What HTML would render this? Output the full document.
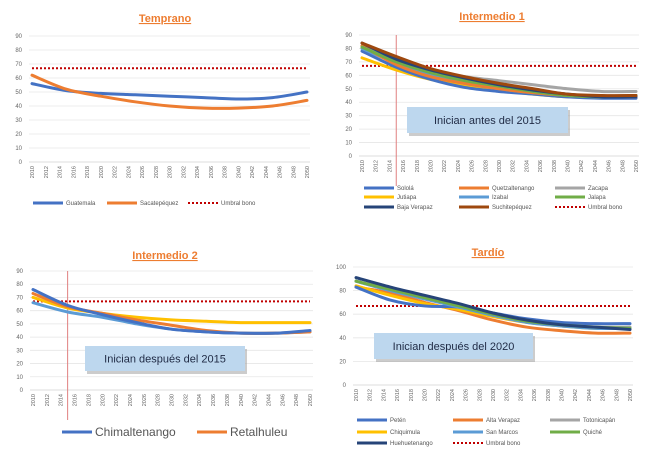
<!DOCTYPE html>
<html><head><meta charset="utf-8"><style>
html,body{margin:0;padding:0;background:#fff;width:645px;height:456px;overflow:hidden;font-family:"Liberation Sans",sans-serif}
svg{display:block}
</style></head><body>
<svg id="c" width="645" height="456" xmlns="http://www.w3.org/2000/svg"></svg>
<script>
const years=[2010,2015,2020,2025,2030,2035,2040,2045,2050];
const tickYears=[2010,2012,2014,2016,2018,2020,2022,2024,2026,2028,2030,2032,2034,2036,2038,2040,2042,2044,2046,2048,2050];
const threshold=67;
const p1Names=["Guatemala","Sacatepéquez"];
const p1Guatemala=[56,51,49,48,47,46,45,46,50];
const p1Sacatepequez=[62,52,47,43,40,38.5,38.5,40,44];
const p2Names=["Sololá","Quetzaltenango","Zacapa","Jutiapa","Izabal","Jalapa","Baja Verapaz","Suchitepéquez"];
const p2Solola=[78,66,57,51,48,46,44,43,43];
const p2Quetzaltenango=[82,68,59,54,50,47,45,44,44];
const p2Zacapa=[80,70,63,59,56,53,50,48,48];
const p2Jutiapa=[73,64,57,53,49,46,44,44,45];
const p2Izabal=[80,69,60,54,50,47,45,44,45];
const p2Jalapa=[81,70,62,56,52,48,45,44,45];
const p2BajaVerapaz=[84,72,64,58,53,49,46,44,44];
const p2Suchitepequez=[84,74,65,59,54,50,46,45,45];
const p3Names=["Chimaltenango","Retalhuleu","Serie 3","Serie 4"];
const p3Chimaltenango=[76,64,57,51,46,44,43,43,45];
const p3Retalhuleu=[73,63,58,53,49,45,43,43,44];
const p3Yellow=[70,62,58,55,53,52,51,51,51];
const p3LightBlue=[66,59,55,50,46,44,43,43,44];
const p4Names=["Petén","Alta Verapaz","Totonicapán","Chiquimula","San Marcos","Quiché","Huehuetenango"];
const p4Peten=[83,72,67,66,61,56,53,52,52];
const p4AltaVerapaz=[83,78,70,63,55,49,46,44,44];
const p4Totonicapan=[88,80,73,67,60,54,50,49,49];
const p4Chiquimula=[84,76,69,64,58,53,50,48,48];
const p4SanMarcos=[88,80,73,66,59,53,50,48,48];
const p4Quiche=[88,81,74,67,60,54,51,49,48];
const p4Huehuetenango=[91,83,76,69,61,55,51,49,47];
const ticks90=[0,10,20,30,40,50,60,70,80,90];
const ticks100=[0,20,40,60,80,100];

const NS="http://www.w3.org/2000/svg";
const svg=document.getElementById('c');
function el(tag,attrs,parent){const e=document.createElementNS(NS,tag);for(const k in attrs)e.setAttribute(k,attrs[k]);(parent||svg).appendChild(e);return e;}
const C={blue:"#4472c4",orange:"#ed7d31",gray:"#a5a5a5",yellow:"#ffc000",lblue:"#5b9bd5",green:"#70ad47",navy:"#264478",brown:"#9e480e",red:"#c00000"};

function smoothPath(pts){
  let d="M"+pts[0][0]+","+pts[0][1];
  for(let i=0;i<pts.length-1;i++){
    const p0=pts[Math.max(0,i-1)],p1=pts[i],p2=pts[i+1],p3=pts[Math.min(pts.length-1,i+2)];
    const c1x=p1[0]+(p2[0]-p0[0])/6,c1y=p1[1]+(p2[1]-p0[1])/6;
    const c2x=p2[0]-(p3[0]-p1[0])/6,c2y=p2[1]-(p3[1]-p1[1])/6;
    d+=` C${c1x},${c1y} ${c2x},${c2y} ${p2[0]},${p2[1]}`;
  }
  return d;
}

function panel(cfg){
  const g=el('g',{});
  
  
  const ymax=cfg.ticks[cfg.ticks.length-1];
  const X=v=>cfg.x0+(v-2010)/40*(cfg.x1-cfg.x0);
  const Y=v=>cfg.y0-v/ymax*(cfg.y0-cfg.yTop);
  cfg.ticks.forEach(t=>{
    const ln=el('line',{x1:cfg.x0-3,x2:cfg.x1+3,y1:Y(t),y2:Y(t),stroke:t===0?"#d0d0d0":"#e6e6e6","stroke-width":0.8},g);
    
    
    const tx=el('text',{x:cfg.x0-10,y:Y(t)+2,"font-size":6,fill:"#666","text-anchor":"end"},g);
    tx.textContent=t;
    
    
  });
  tickYears.forEach(yr=>{
    const tx=el('text',{transform:`translate(${X(yr)+2},${cfg.y0+4}) rotate(-90)`,"font-size":5.5,fill:"#666","text-anchor":"end"},g);
    tx.textContent=yr;
    
    
  });
  const t=el('text',{x:cfg.tx,y:cfg.ty,"font-size":11,"font-weight":"bold",fill:"#ed7d31","text-anchor":"middle","text-decoration":"underline"},g);
  t.textContent=cfg.title;
  
  
  if(cfg.vline){
    const v=el('line',{x1:X(2015),x2:X(2015),y1:cfg.yTop,y2:cfg.y0+30,stroke:"#e08080","stroke-width":1},g);
    
    
  }
  const thr=el('line',{x1:X(2010),x2:X(2050),y1:Y(threshold),y2:Y(threshold),stroke:C.red,"stroke-width":2,"stroke-dasharray":"2,2"},g);
  
  
  cfg.series.forEach(s=>{
    const pts=s.data.map((v,i)=>[X(years[i]),Y(v)]);
    const p=el('path',{d:smoothPath(pts),fill:"none",stroke:s.color,"stroke-width":3,"stroke-linecap":"round"},g);
    
    
  });
  if(cfg.box){
    const b=cfg.box;
    const r=el('rect',{x:b.x+2,y:b.y+3,width:b.w,height:b.h,fill:"#999",opacity:0.5},g);
    
    
    const r2=el('rect',{x:b.x,y:b.y,width:b.w,height:b.h,fill:"#bdd7ee"},g);
    
    
    const bt=el('text',{x:b.x+b.w/2,y:b.y+b.h/2+4,"font-size":11,fill:"#1f2a44","text-anchor":"middle"},g);
    bt.textContent=b.text;
    
    
  }
  cfg.legend.forEach(L=>{
    const ln=el('line',{x1:L.x,x2:L.x+30,y1:L.y,y2:L.y,stroke:L.color,"stroke-width":L.dot?2:3,"stroke-dasharray":L.dot?"2,2":"none"},g);
    
    
    const tx=el('text',{x:L.x+33,y:L.y+(L.fs||6)/3,"font-size":L.fs||6,fill:"#555"},g);
    tx.textContent=L.label;
    
    
  });
}

panel({name:"chart-temprano",title:"Temprano",tx:165,ty:22,x0:32,x1:307,y0:162,yTop:36,ticks:ticks90,
  series:[{key:"guatemala",data:p1Guatemala,color:C.blue},{key:"sacatepequez",data:p1Sacatepequez,color:C.orange}],
  legend:[{x:33,y:203,color:C.blue,label:p1Names[0]},{x:107,y:203,color:C.orange,label:p1Names[1]},{x:188,y:203,color:C.red,dot:1,label:"Umbral bono"}]});

const c1=[364,459,555],r1=[188,197,207];
panel({name:"chart-intermedio-1",title:"Intermedio 1",tx:492,ty:20,x0:362,x1:636,y0:156,yTop:35,ticks:ticks90,vline:1,
  box:{x:407,y:107,w:161,h:26,text:"Inician antes del 2015"},
  series:[
    {key:"zacapa",data:p2Zacapa,color:C.gray},
    {key:"jutiapa",data:p2Jutiapa,color:C.yellow},
    {key:"solola",data:p2Solola,color:C.blue},
    {key:"izabal",data:p2Izabal,color:C.lblue},
    {key:"quetzaltenango",data:p2Quetzaltenango,color:C.orange},
    {key:"jalapa",data:p2Jalapa,color:C.green},
    {key:"baja-verapaz",data:p2BajaVerapaz,color:C.navy},
    {key:"suchitepequez",data:p2Suchitepequez,color:C.brown}],
  legend:[
    {x:c1[0],y:r1[0],color:C.blue,label:p2Names[0]},{x:c1[1],y:r1[0],color:C.orange,label:p2Names[1]},{x:c1[2],y:r1[0],color:C.gray,label:p2Names[2]},
    {x:c1[0],y:r1[1],color:C.yellow,label:p2Names[3]},{x:c1[1],y:r1[1],color:C.lblue,label:p2Names[4]},{x:c1[2],y:r1[1],color:C.green,label:p2Names[5]},
    {x:c1[0],y:r1[2],color:C.navy,label:p2Names[6]},{x:c1[1],y:r1[2],color:C.brown,label:p2Names[7]},{x:c1[2],y:r1[2],color:C.red,dot:1,label:"Umbral bono"}]});

panel({name:"chart-intermedio-2",title:"Intermedio 2",tx:165,ty:259,x0:33,x1:310,y0:390,yTop:271,ticks:ticks90,vline:1,
  box:{x:85,y:346,w:160,h:25,text:"Inician después del 2015"},
  series:[
    {key:"yellow",data:p3Yellow,color:C.yellow},
    {key:"light-blue",data:p3LightBlue,color:C.lblue},
    {key:"retalhuleu",data:p3Retalhuleu,color:C.orange},
    {key:"chimaltenango",data:p3Chimaltenango,color:C.blue}],
  legend:[{x:62,y:432,color:C.blue,label:p3Names[0],fs:12},{x:197,y:432,color:C.orange,label:p3Names[1],fs:12}]});

const c4=[357,453,550],r4=[420,432,443];
panel({name:"chart-tardio",title:"Tardío",tx:488,ty:256,x0:356,x1:630,y0:385,yTop:267,ticks:ticks100,
  box:{x:374,y:333,w:159,h:26,text:"Inician después del 2020"},
  series:[
    {key:"alta-verapaz",data:p4AltaVerapaz,color:C.orange},
    {key:"chiquimula",data:p4Chiquimula,color:C.yellow},
    {key:"peten",data:p4Peten,color:C.blue},
    {key:"totonicapan",data:p4Totonicapan,color:C.gray},
    {key:"san-marcos",data:p4SanMarcos,color:C.lblue},
    {key:"quiche",data:p4Quiche,color:C.green},
    {key:"huehuetenango",data:p4Huehuetenango,color:C.navy}],
  legend:[
    {x:c4[0],y:r4[0],color:C.blue,label:p4Names[0]},{x:c4[1],y:r4[0],color:C.orange,label:p4Names[1]},{x:c4[2],y:r4[0],color:C.gray,label:p4Names[2]},
    {x:c4[0],y:r4[1],color:C.yellow,label:p4Names[3]},{x:c4[1],y:r4[1],color:C.lblue,label:p4Names[4]},{x:c4[2],y:r4[1],color:C.green,label:p4Names[5]},
    {x:c4[0],y:r4[2],color:C.navy,label:p4Names[6]},{x:c4[1],y:r4[2],color:C.red,dot:1,label:"Umbral bono"}]});
</script>
</body></html>
